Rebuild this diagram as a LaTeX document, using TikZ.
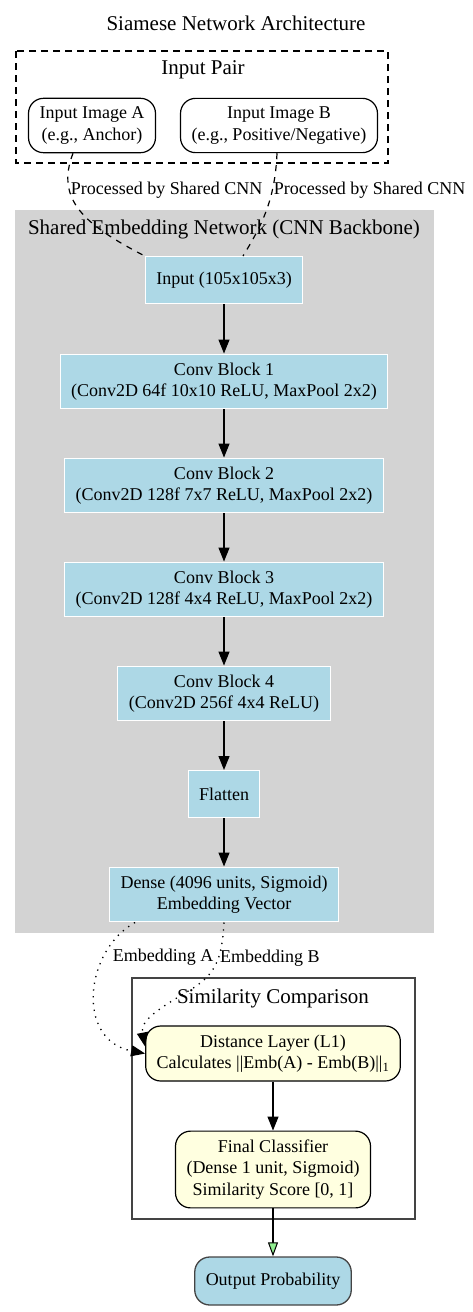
\documentclass[tikz,border=0pt]{standalone}
\usepackage{fontspec}
\setmainfont{Liberation Serif}
\usepackage{tikz}
\usetikzlibrary{positioning}
\usetikzlibrary{shapes,arrows.meta}
\definecolor{boxblue}{HTML}{ADD8E6}
\definecolor{clustergray}{HTML}{D3D3D3}
\definecolor{paleyellow}{HTML}{FFFFE0}
\definecolor{edgegray}{HTML}{444444}
\definecolor{tipgreen}{HTML}{90EE90}
\newcommand{\lblfont}{\fontsize{18}{21.6}\selectfont}
\newcommand{\clsfont}{\fontsize{21}{25}\selectfont}
\tikzstyle{novertex} = [draw=none, fill=none, text centered, font=\clsfont]
\tikzstyle{inputimg} = [rectangle, draw, line width=1.2pt, fill=white, rounded corners=15pt, align=center, font=\lblfont, inner xsep=11pt, inner ysep=8.5pt, minimum height=47pt]
\tikzstyle{layer}    = [rectangle, draw=white, line width=1pt, fill=boxblue, align=center, font=\lblfont, inner xsep=11pt, inner ysep=8.5pt, minimum height=47pt]
\tikzstyle{compare}  = [rectangle, draw, line width=1.2pt, fill=paleyellow, rounded corners=15pt, align=center, font=\lblfont, inner xsep=11pt, inner ysep=8.5pt, minimum height=47pt]
\tikzstyle{output}   = [rectangle, draw=edgegray, line width=1.3pt, fill=boxblue, rounded corners=15pt, align=center, font=\lblfont, inner xsep=11pt, inner ysep=8.5pt, minimum height=48pt]
\tikzstyle{edgelabel} = [font=\lblfont, inner sep=1pt]
\tikzstyle{flow}   = [draw, line width=1.2pt, -{Triangle[length=14pt,width=11pt]}]
\tikzstyle{final}  = [draw, line width=1.2pt, -{Triangle[length=14pt,width=10pt,fill=tipgreen,line width=1pt]}]
\tikzstyle{shared} = [draw, line width=1.2pt, dash pattern=on 6pt off 6pt]
\tikzstyle{embed}  = [draw, line width=1.3pt, dash pattern=on 1.3pt off 5.5pt, -{Triangle[length=14pt,width=11pt]}]
\begin{document}
\begin{tikzpicture}[x=1pt, y=-1pt]
	\useasboundingbox (0,0) rectangle (472,1312);

	% clusters
	\draw [line width=1.2pt, dash pattern=on 7pt off 5pt] (16,51) rectangle (388,163);
	\fill [clustergray] (15,210) rectangle (434,933);
	\draw [edgegray, line width=1.3pt] (132,978) rectangle (415,1219);

	% title and cluster labels
	\node [novertex] (N0) at (236,23) {Siamese Network Architecture};
	\node [novertex] (C1) at (203,70) {Input Pair};
	\node [novertex] (C2) at (224,229) {Shared Embedding Network (CNN Backbone)};
	\node [novertex] (C3) at (273,998) {Similarity Comparison};

	% place nodes
	\node [inputimg] (N1) at (92,125.5)  {Input Image A\\(e.g., Anchor)};
	\node [inputimg] (N2) at (279,125.5) {Input Image B\\(e.g., Positive/Negative)};
	\node [layer] (N3) at (224,280) {Input (105x105x3)};
	\node [layer, below of=N3, node distance=101.5pt] (N4) {Conv Block 1\\(Conv2D 64f 10x10 ReLU, MaxPool 2x2)};
	\node [layer, below of=N4, node distance=104pt]   (N5) {Conv Block 2\\(Conv2D 128f 7x7 ReLU, MaxPool 2x2)};
	\node [layer, below of=N5, node distance=104pt]   (N6) {Conv Block 3\\(Conv2D 128f 4x4 ReLU, MaxPool 2x2)};
	\node [layer, below of=N6, node distance=104pt]   (N7) {Conv Block 4\\(Conv2D 256f 4x4 ReLU)};
	\node [layer, below of=N7, node distance=100.5pt] (N8) {Flatten};
	\node [layer, below of=N8, node distance=100.5pt] (N9) {Dense (4096 units, Sigmoid)\\Embedding Vector};
	\node [compare] (N10) at (273,1053.5) {Distance Layer (L1)\\Calculates ||Emb(A) - Emb(B)||\textsubscript{1}};
	\node [compare, below of=N10, node distance=116pt] (N11) {Final Classifier\\(Dense 1 unit, Sigmoid)\\Similarity Score [0, 1]};
	\node [output, below of=N11, node distance=111.5pt] (N12) {Output Probability};

	% draw edges
	\path [shared] ([xshift=-19pt]N1.south) .. controls (55,200) and (85,225) .. node [edgelabel, pos=0.3, anchor=west] {Processed by Shared CNN} (N3.north west);
	\path [shared] ([xshift=-2pt]N2.south) .. controls (275,200) and (262,225) .. node [edgelabel, pos=0.3, anchor=west] {Processed by Shared CNN} ([xshift=19pt]N3.north);
	\path [flow] (N3) -- (N4);
	\path [flow] (N4) -- (N5);
	\path [flow] (N5) -- (N6);
	\path [flow] (N6) -- (N7);
	\path [flow] (N7) -- (N8);
	\path [flow] (N8) -- (N9);
	\path [embed] ([xshift=-89pt]N9.south) .. controls (85,950) and (75,1040) .. node [edgelabel, pos=0.28, anchor=west, xshift=8pt] {Embedding A} (N10.west);
	\path [embed] (N9.south) .. controls (222,960) and (215,975) .. node [edgelabel, pos=0.4, anchor=west] {Embedding B} (190,990) .. controls (160,1008) and (140,1020) .. ([yshift=7pt]N10.west);
	\path [flow] (N10) -- (N11);
	\path [final] (N11) -- (N12);
\end{tikzpicture}
\end{document}
